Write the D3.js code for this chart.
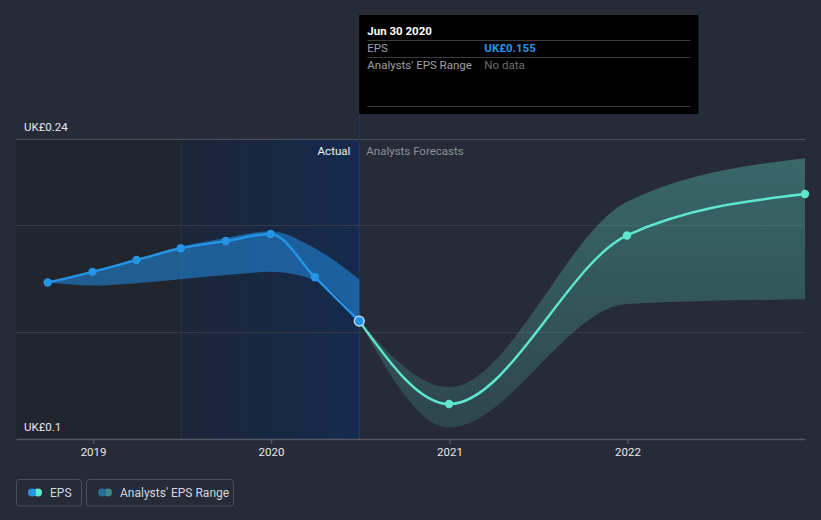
<!DOCTYPE html>
<html>
<head>
<meta charset="utf-8">
<script src="https://cdn.jsdelivr.net/npm/d3@7"></script>
<style>
  html, body { margin: 0; padding: 0; background: #262b37; }
  svg { display: block; font-family: Roboto, "Noto Sans", sans-serif; }
</style>
</head>
<body>
<svg id="chart" width="821" height="520"></svg>
<script>
// ---------- data ----------
const actualDates = ["2018-09-30","2018-12-31","2019-03-31","2019-06-30","2019-09-30","2019-12-31","2020-03-31","2020-06-30"];
const actualEps   = [0.173, 0.178, 0.1835, 0.189, 0.1924, 0.1957, 0.1755, 0.155];
const pastRangeLow  = [0.173, 0.1716, 0.1727, 0.1745, 0.1765, 0.178, 0.174, 0.155];
const pastRangeHigh = [0.173, 0.178, 0.1838, 0.1898, 0.1938, 0.197, 0.189, 0.1745];

const forecastDates = ["2020-06-30","2020-12-31","2021-12-31","2022-12-31"];
const forecastEps   = [0.155, 0.1163, 0.195, 0.2143];
const forecastLow   = [0.155, 0.1054, 0.163, 0.1652];
const forecastHigh  = [0.155, 0.1242, 0.2107, 0.231];

const xTickValues = ["2019-01-01","2020-01-01","2021-01-01","2022-01-01"];
const xTickLabels = ["2019","2020","2021","2022"];
const yGridValues = [0.1, 0.15, 0.2, 0.24];
const yLabelValues = [0.1, 0.24];
const yLabelTexts = ["UK£0.1", "UK£0.24"];

const tooltipDate = "Jun 30 2020";
const tooltipEps = "UK£0.155";
const tooltipRange = "No data";

const legendItems = ["EPS", "Analysts' EPS Range"];

// ---------- setup ----------
(function () {
const parse = d3.timeParse("%Y-%m-%d");
const svg = d3.select("#chart");
const W = 821, H = 520;
const pLeft = 16, pRight = 805, pTop = 139, pBottom = 439;

const x = d3.scaleTime()
  .domain([parse("2018-07-27"), parse("2022-12-31")])
  .range([pLeft, pRight]);
const y = d3.scaleLinear().domain([0.1, 0.24]).range([pBottom, pTop]);

const actual = actualDates.map((d, i) => ({ date: parse(d), v: actualEps[i], lo: pastRangeLow[i], hi: pastRangeHigh[i] }));
const forecast = forecastDates.map((d, i) => ({ date: parse(d), v: forecastEps[i], lo: forecastLow[i], hi: forecastHigh[i] }));

const defs = svg.append("defs");
const gBlue = defs.append("linearGradient").attr("id", "pastBg")
  .attr("x1", "0").attr("x2", "1").attr("y1", "0").attr("y2", "0");
gBlue.append("stop").attr("offset", "0").attr("stop-color", "#1c2639");
gBlue.append("stop").attr("offset", "0.5").attr("stop-color", "#182842");
gBlue.append("stop").attr("offset", "1").attr("stop-color", "#152a4d");

const gBand = defs.append("linearGradient").attr("id", "fcBand")
  .attr("gradientUnits", "userSpaceOnUse")
  .attr("x1", 0).attr("x2", 0).attr("y1", y(0.235)).attr("y2", y(0.1));
gBand.append("stop").attr("offset", "0").attr("stop-color", "#5ee0cc").attr("stop-opacity", 0.34);
gBand.append("stop").attr("offset", "1").attr("stop-color", "#5ee0cc").attr("stop-opacity", 0.14);

// background
svg.append("rect").attr("width", W).attr("height", H).attr("fill", "#262b37");

const splitDate = parse("2019-06-30");
const nowDate = parse("2020-06-30");
// older past region
svg.append("rect")
  .attr("x", x.range()[0]).attr("y", pTop)
  .attr("width", x(splitDate) - x.range()[0]).attr("height", pBottom - pTop)
  .attr("fill", "#21252e");
// last-year region
svg.append("rect")
  .attr("x", x(splitDate)).attr("y", pTop)
  .attr("width", x(nowDate) - x(splitDate)).attr("height", pBottom - pTop)
  .attr("fill", "url(#pastBg)");
svg.append("line")
  .attr("x1", x(splitDate) + 0.5).attr("x2", x(splitDate) + 0.5)
  .attr("y1", pTop).attr("y2", pBottom)
  .attr("stroke", "#243049").attr("stroke-width", 1);

// grid lines
svg.append("g").selectAll("line").data(yGridValues.filter(v => v !== 0.1)).join("line")
  .attr("x1", pLeft).attr("x2", pRight)
  .attr("y1", d => Math.round(y(d)) + 0.5).attr("y2", d => Math.round(y(d)) + 0.5)
  .attr("stroke", d => d === 0.24 ? "#4b505c" : "#373c48")
  .attr("stroke-width", 1);

// now line
svg.append("line")
  .attr("x1", x(nowDate)).attr("x2", x(nowDate))
  .attr("y1", 114).attr("y2", pBottom)
  .attr("stroke", "#1d3a63").attr("stroke-width", 1.2);

// x axis
const xAxis = d3.axisBottom(x)
  .tickValues(xTickValues.map(parse))
  .tickFormat((d, i) => xTickLabels[i])
  .tickSizeInner(5).tickSizeOuter(0).tickPadding(4);
const gx = svg.append("g").attr("transform", `translate(0,${pBottom})`).call(xAxis);
gx.select(".domain").attr("stroke", "#525864").attr("stroke-width", 1.5);
gx.selectAll(".tick line").attr("stroke", "#525864").attr("stroke-width", 1.5);
gx.selectAll(".tick text").attr("fill", "#e6e8ec").attr("font-size", 11.5)
  .attr("font-family", "Roboto, sans-serif");

// y labels
svg.append("g").selectAll("text").data(yLabelValues).join("text")
  .attr("x", 24).attr("y", d => y(d) - 8)
  .attr("fill", "#e6e8ec").attr("font-size", 11.5)
  .text((d, i) => yLabelTexts[i]);

// Actual / Forecast labels
svg.append("text").attr("x", x(nowDate) - 9).attr("y", 155)
  .attr("text-anchor", "end").attr("fill", "#eef0f3").attr("font-size", 11.5).text("Actual");
svg.append("text").attr("x", x(nowDate) + 7).attr("y", 155)
  .attr("fill", "#8b909a").attr("font-size", 11.5).text("Analysts Forecasts");

// areas
const area = d3.area().curve(d3.curveMonotoneX)
  .x(d => x(d.date)).y0(d => y(d.lo)).y1(d => y(d.hi));
svg.append("path").datum(actual).attr("d", area)
  .attr("fill", "#2196f3").attr("fill-opacity", 0.5);
svg.append("path").datum(forecast).attr("d", area)
  .attr("fill", "url(#fcBand)");

// lines
const line = d3.line().curve(d3.curveMonotoneX).x(d => x(d.date)).y(d => y(d.v));
svg.append("path").datum(actual).attr("d", line)
  .attr("fill", "none").attr("stroke", "#2394e6").attr("stroke-width", 2.5);
svg.append("path").datum(forecast).attr("d", line)
  .attr("fill", "none").attr("stroke", "#5ee6cf").attr("stroke-width", 2.5);

// points
svg.append("g").selectAll("circle").data(actual.slice(0, -1)).join("circle")
  .attr("cx", d => x(d.date)).attr("cy", d => y(d.v)).attr("r", 4.2)
  .attr("fill", "#2394e6");
svg.append("g").selectAll("circle").data(forecast.slice(1)).join("circle")
  .attr("cx", d => x(d.date)).attr("cy", d => y(d.v)).attr("r", 4.2)
  .attr("fill", "#5ee6cf");
const last = actual[actual.length - 1];
svg.append("circle").attr("cx", x(last.date)).attr("cy", y(last.v)).attr("r", 5)
  .attr("fill", "#2394e6").attr("stroke", "#d8e8f8").attr("stroke-width", 1.2);

// tooltip
const tt = svg.append("g").attr("transform", `translate(${x(nowDate)},15)`);
tt.append("rect").attr("width", 339).attr("height", 99).attr("fill", "#000");
tt.append("text").attr("x", 8).attr("y", 20).attr("fill", "#fff")
  .attr("font-size", 11.5).attr("font-weight", "bold").text(tooltipDate);
[25, 42, 91].forEach(yy => {
  tt.append("line").attr("x1", 8).attr("x2", 331).attr("y1", yy + 0.5).attr("y2", yy + 0.5)
    .attr("stroke", "#3c3c3c").attr("stroke-width", 1);
});
tt.append("text").attr("x", 8).attr("y", 37).attr("fill", "#a0a0a0").attr("font-size", 11.5).text("EPS");
tt.append("text").attr("x", 125).attr("y", 37).attr("fill", "#2394e6").attr("font-size", 11.5)
  .attr("font-weight", "bold").text(tooltipEps);
tt.append("text").attr("x", 8).attr("y", 54).attr("fill", "#a0a0a0").attr("font-size", 11.5).text("Analysts' EPS Range");
tt.append("text").attr("x", 125).attr("y", 54).attr("fill", "#6c6c6c").attr("font-size", 11.5).text(tooltipRange);

// legend
const legendBoxes = [
  { x: 16.5, w: 65, c1: "#2394e6", c2: "#5ee6cf" },
  { x: 86.5, w: 147, c1: "#2a6a9c", c2: "#3f8a86" }
];
const lg = svg.append("g");
legendBoxes.forEach((b, i) => {
  const g = lg.append("g");
  g.append("rect").attr("x", b.x).attr("y", 479.5).attr("width", b.w).attr("height", 26.5)
    .attr("rx", 3).attr("fill", "none").attr("stroke", "#4a505c").attr("stroke-width", 1);
  g.append("circle").attr("cx", b.x + 21.5).attr("cy", 492.5).attr("r", 4).attr("fill", b.c2);
  g.append("circle").attr("cx", b.x + 15.5).attr("cy", 492.5).attr("r", 4).attr("fill", b.c1);
  g.append("text").attr("x", b.x + 33.5).attr("y", 497).attr("fill", "#d4d7dc")
    .attr("font-size", 12).text(legendItems[i]);
});
})();
</script>
</body>
</html>
